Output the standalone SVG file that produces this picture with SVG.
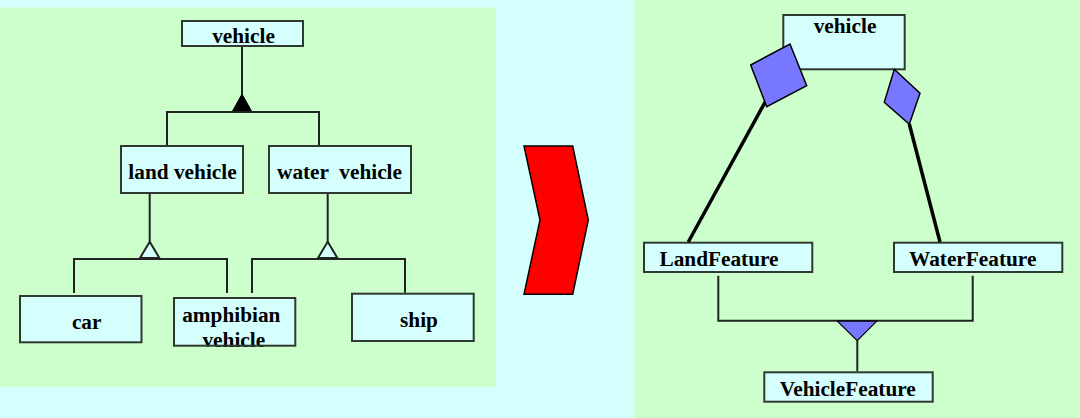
<svg xmlns="http://www.w3.org/2000/svg" width="1080" height="418" viewBox="0 0 1080 418">
<style>
.bg{fill:#D4FFFC}
.panel{fill:#CCFFCC}
.box{fill:#D4FFFC;stroke:#2E3A30;stroke-width:2}
.boxs{fill:none;stroke:#2E3A30;stroke-width:2}
.t{font-family:"Liberation Serif","Times New Roman",serif;font-weight:bold;font-size:21.3px;fill:#000;text-anchor:middle}
.ln{fill:none;stroke:#222;stroke-width:2}
.thick{fill:none;stroke:#000;stroke-width:3.5}
.dia{fill:#7777FF;stroke:#000;stroke-width:1.5}
</style>
<rect class="bg" x="0" y="0" width="1080" height="418"/>
<rect class="panel" x="0" y="7.5" width="496" height="379.5"/>
<rect class="panel" x="634.5" y="0" width="445.5" height="418"/>

<g id="arrow">
  <polygon points="524,146 572.7,146 588.3,220 572.7,294.3 524,294.3 540,220" fill="#FF0000" stroke="#000" stroke-width="1.5"/>
</g>

<g id="node-vehicle-left">
  <rect class="box" x="182" y="21" width="121" height="25"/>
  <text class="t" x="243.5" y="43.3">vehicle</text>
</g>
<g id="node-land-vehicle">
  <rect class="box" x="121" y="146" width="122" height="47"/>
  <text class="t" x="182.5" y="179.3">land vehicle</text>
</g>
<g id="node-water-vehicle">
  <rect class="box" x="269" y="146" width="142" height="47"/>
  <text class="t" x="339.5" y="179.3" xml:space="preserve">water  vehicle</text>
</g>
<g id="node-car">
  <rect class="box" x="20" y="296" width="121.5" height="46.3"/>
  <text class="t" x="86.7" y="329.3">car</text>
</g>
<g id="node-amphibian">
  <rect x="174" y="298" width="121.3" height="47.7" fill="#D4FFFC"/>
  <text class="t" x="231.3" y="321.7">amphibian</text>
  <text class="t" x="233.8" y="347">vehicle</text>
  <rect class="boxs" x="174" y="298" width="121.3" height="47.7"/>
</g>
<g id="node-ship">
  <rect class="box" x="352" y="293.7" width="121.7" height="47.3"/>
  <text class="t" x="419" y="326.7">ship</text>
</g>

<g id="node-vehicle-right">
  <rect class="box" x="783.3" y="15" width="121.4" height="54.3"/>
  <text class="t" x="845" y="33.3">vehicle</text>
</g>
<g id="node-landfeature">
  <rect class="box" x="644" y="242.7" width="168.3" height="29.3"/>
  <text class="t" x="719" y="265.7">LandFeature</text>
</g>
<g id="node-waterfeature">
  <rect class="box" x="894" y="242.7" width="168.3" height="29.3"/>
  <text class="t" x="972.7" y="265.7">WaterFeature</text>
</g>
<g id="node-vehiclefeature">
  <rect class="box" x="764.3" y="372.3" width="168.4" height="29.4"/>
  <text class="t" x="847.8" y="395.7">VehicleFeature</text>
</g>

<g id="connectors">
  <!-- left panel -->
  <path class="ln" d="M242 47 V95"/>
  <polygon points="242,94 232,112 252,112" fill="#000" stroke="#000" stroke-width="1"/>
  <path class="ln" d="M167 145 V112 H319 V145"/>
  <path class="ln" d="M149.7 194 V242"/>
  <polygon points="149.7,241.7 140,258 159.4,258" fill="#D4FFFC" stroke="#222" stroke-width="2"/>
  <path class="ln" d="M74 293 V259 H227 V293"/>
  <path class="ln" d="M327.7 194 V242"/>
  <polygon points="327.7,241.7 318,258 337.4,258" fill="#D4FFFC" stroke="#222" stroke-width="2"/>
  <path class="ln" d="M252 293 V259 H405 V292.7"/>
  <!-- right panel -->
  <path class="thick" d="M765.7 101 L688.3 242"/>
  <path class="thick" d="M909.3 124 L940 242"/>
  <polygon class="dia" points="750.7,65 790,44 806.7,85.7 766.7,106.7"/>
  <polygon class="dia" points="894.3,69.3 920,93.3 909.3,124.3 884.3,102.3"/>
  <path class="ln" d="M718.3 275.7 V320.7 H972.7 V275.7"/>
  <polygon points="837.3,321.2 876.7,321.2 857.3,340.7" fill="#7777FF" stroke="#000" stroke-width="1.2"/>
  <path class="ln" d="M857.3 340.7 V371.3"/>
</g>
</svg>
